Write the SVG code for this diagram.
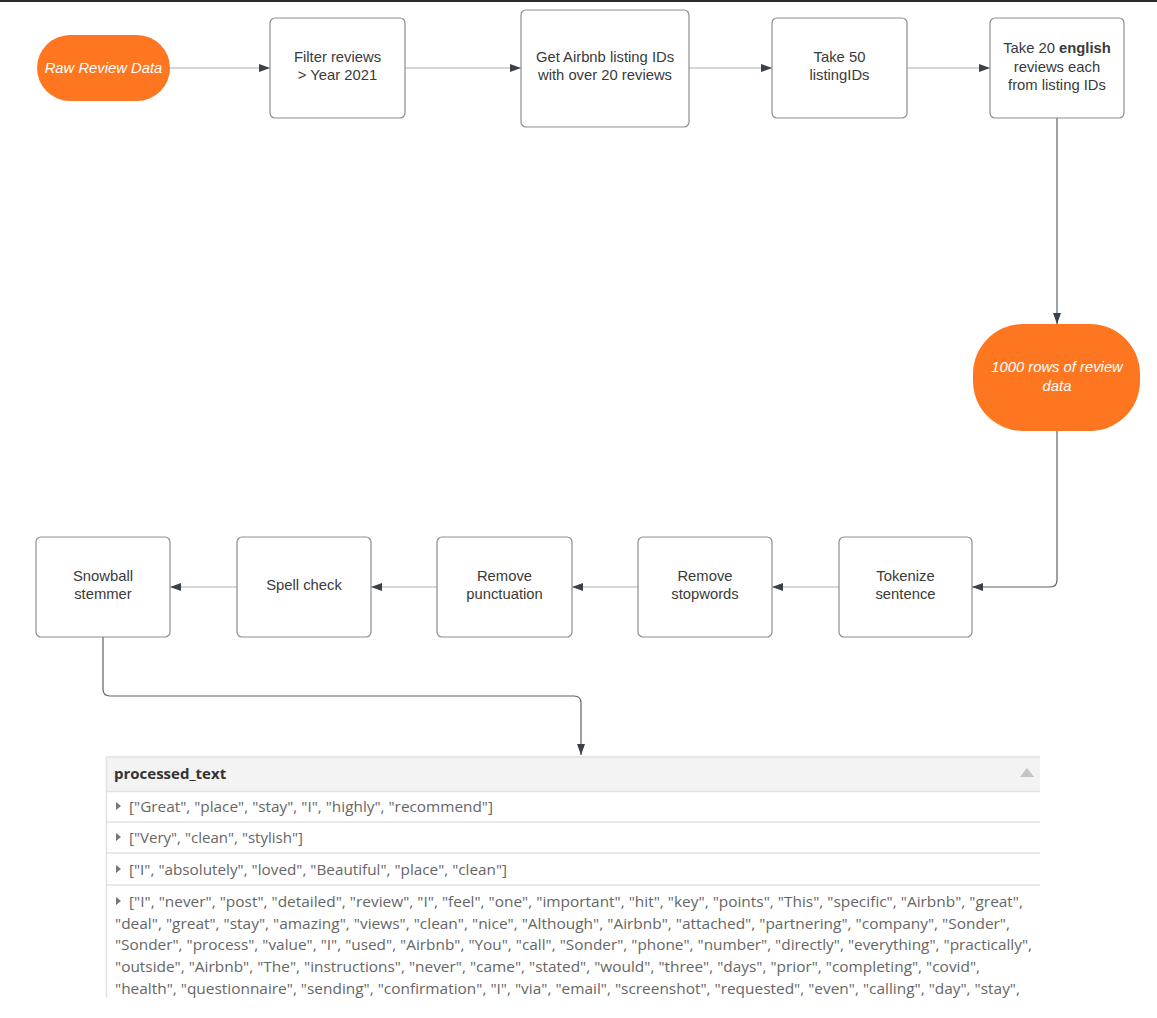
<svg xmlns="http://www.w3.org/2000/svg" width="1157" height="1018" viewBox="0 0 1157 1018">
<style>
.box{fill:#fff;stroke:#8a8d91;stroke-width:1.2}
.pill{fill:#ff7620;stroke:none}
.t{font-family:"Liberation Sans",Arial,sans-serif;font-size:14.8px;fill:#3a3a3a;text-anchor:middle}
.ti{font-family:"Liberation Sans",Arial,sans-serif;font-size:14.8px;fill:#fff;font-style:italic;text-anchor:middle}
.c{fill:none;stroke:#a9adb2;stroke-width:1.2}
.cv{fill:none;stroke:#5e636a;stroke-width:1.2}
.tab{font-family:"Open Sans","DejaVu Sans",sans-serif;font-size:14.5px;fill:#666}
.sep{stroke:#e2e2e2;stroke-width:1.5}
</style>
<defs>
<marker id="ah" viewBox="0 0 11 10" refX="11" refY="5" markerWidth="11" markerHeight="10" markerUnits="userSpaceOnUse" orient="auto">
<path d="M0,1 L11,5 L0,9 z" fill="#3a414a"/>
</marker>
</defs>
<rect x="0" y="0" width="1157" height="2" fill="#2a2a2a"/>
<g id="connectors">
<path class="c" d="M170,68 H270" marker-end="url(#ah)"/>
<path class="c" d="M405,68 H521" marker-end="url(#ah)"/>
<path class="c" d="M689,68 H772" marker-end="url(#ah)"/>
<path class="c" d="M907,68 H990" marker-end="url(#ah)"/>
<path class="cv" d="M1057,118 V324" marker-end="url(#ah)"/>
<path class="cv" d="M1057,431 V580 Q1057,587 1050,587 H972" marker-end="url(#ah)"/>
<path class="c" d="M839,587 H772" marker-end="url(#ah)"/>
<path class="c" d="M638,587 H572" marker-end="url(#ah)"/>
<path class="c" d="M437,587 H371" marker-end="url(#ah)"/>
<path class="c" d="M237,587 H170" marker-end="url(#ah)"/>
<path class="cv" d="M103,637 V689 Q103,696 110,696 H574 Q581,696 581,703 V755" marker-end="url(#ah)"/>
</g>
<g id="raw">
<rect class="pill" x="37" y="35" width="133" height="66" rx="33" ry="33"/>
<text class="ti" x="103.5" y="73">Raw Review Data</text>
</g>
<g id="filter">
<rect class="box" x="270" y="18" width="135" height="100" rx="5"/>
<text class="t" x="337.5" y="62">Filter reviews</text>
<text class="t" x="337.5" y="80">&gt; Year 2021</text>
</g>
<g id="getids">
<rect class="box" x="521" y="10" width="168" height="117" rx="5"/>
<text class="t" x="605" y="62">Get Airbnb listing IDs</text>
<text class="t" x="605" y="80">with over 20 reviews</text>
</g>
<g id="take50">
<rect class="box" x="772" y="18" width="135" height="100" rx="5"/>
<text class="t" x="839.5" y="62">Take 50</text>
<text class="t" x="839.5" y="80">listingIDs</text>
</g>
<g id="take20">
<rect class="box" x="990" y="18" width="134" height="100" rx="5"/>
<text class="t" x="1057" y="53">Take 20 <tspan font-weight="bold">english</tspan></text>
<text class="t" x="1057" y="71.5">reviews each</text>
<text class="t" x="1057" y="90">from listing IDs</text>
</g>
<g id="rows1000">
<rect class="pill" x="973" y="324" width="167" height="107" rx="50" ry="50"/>
<text class="ti" x="1057" y="372">1000 rows of review</text>
<text class="ti" x="1057" y="390.5">data</text>
</g>
<g id="tokenize">
<rect class="box" x="839" y="537" width="133" height="100" rx="5"/>
<text class="t" x="905.5" y="581">Tokenize</text>
<text class="t" x="905.5" y="599">sentence</text>
</g>
<g id="stopwords">
<rect class="box" x="638" y="537" width="134" height="100" rx="5"/>
<text class="t" x="705" y="581">Remove</text>
<text class="t" x="705" y="599">stopwords</text>
</g>
<g id="punct">
<rect class="box" x="437" y="537" width="135" height="100" rx="5"/>
<text class="t" x="504.5" y="581">Remove</text>
<text class="t" x="504.5" y="599">punctuation</text>
</g>
<g id="spell">
<rect class="box" x="237" y="537" width="134" height="100" rx="5"/>
<text class="t" x="304" y="590">Spell check</text>
</g>
<g id="snowball">
<rect class="box" x="36" y="537" width="134" height="100" rx="5"/>
<text class="t" x="103" y="581">Snowball</text>
<text class="t" x="103" y="599">stemmer</text>
</g>
<g id="table">
<rect x="106" y="757" width="934" height="34" fill="#f3f3f3"/>
<line class="sep" x1="106" y1="757" x2="1040" y2="757"/>
<line class="sep" x1="106" y1="791.5" x2="1040" y2="791.5"/>
<line class="sep" x1="106" y1="822" x2="1040" y2="822"/>
<line class="sep" x1="106" y1="853" x2="1040" y2="853"/>
<line class="sep" x1="106" y1="885" x2="1040" y2="885"/>
<line x1="106.5" y1="757" x2="106.5" y2="998" stroke="#e2e2e2" stroke-width="1.5"/>
<text x="114" y="779" font-family="'Open Sans','DejaVu Sans',sans-serif" font-size="15px" font-weight="bold" fill="#333">processed_text</text>
<path d="M1020,777 L1027,768 L1034,777 z" fill="#c4c4c4"/>
<path d="M116,802 L121,806 L116,810 z" fill="#777"/>
<path d="M116,833 L121,837 L116,841 z" fill="#777"/>
<path d="M116,865 L121,869 L116,873 z" fill="#777"/>
<path d="M116,897 L121,901 L116,905 z" fill="#777"/>
<text class="tab" x="129" y="812" textLength="364" lengthAdjust="spacingAndGlyphs">["Great", "place", "stay", "I", "highly", "recommend"]</text>
<text class="tab" x="129" y="843" textLength="174" lengthAdjust="spacingAndGlyphs">["Very", "clean", "stylish"]</text>
<text class="tab" x="129" y="875" textLength="378" lengthAdjust="spacingAndGlyphs">["I", "absolutely", "loved", "Beautiful", "place", "clean"]</text>
<text class="tab" x="129" y="907" textLength="894" lengthAdjust="spacingAndGlyphs">["I", "never", "post", "detailed", "review", "I", "feel", "one", "important", "hit", "key", "points", "This", "specific", "Airbnb", "great",</text>
<text class="tab" x="115" y="928.5" textLength="895" lengthAdjust="spacingAndGlyphs">"deal", "great", "stay", "amazing", "views", "clean", "nice", "Although", "Airbnb", "attached", "partnering", "company", "Sonder",</text>
<text class="tab" x="115" y="950" textLength="917" lengthAdjust="spacingAndGlyphs">"Sonder", "process", "value", "I", "used", "Airbnb", "You", "call", "Sonder", "phone", "number", "directly", "everything", "practically",</text>
<text class="tab" x="115" y="972" textLength="865" lengthAdjust="spacingAndGlyphs">"outside", "Airbnb", "The", "instructions", "never", "came", "stated", "would", "three", "days", "prior", "completing", "covid",</text>
<text class="tab" x="115" y="993.5" textLength="905" lengthAdjust="spacingAndGlyphs">"health", "questionnaire", "sending", "confirmation", "I", "via", "email", "screenshot", "requested", "even", "calling", "day", "stay",</text>
</g>
</svg>
